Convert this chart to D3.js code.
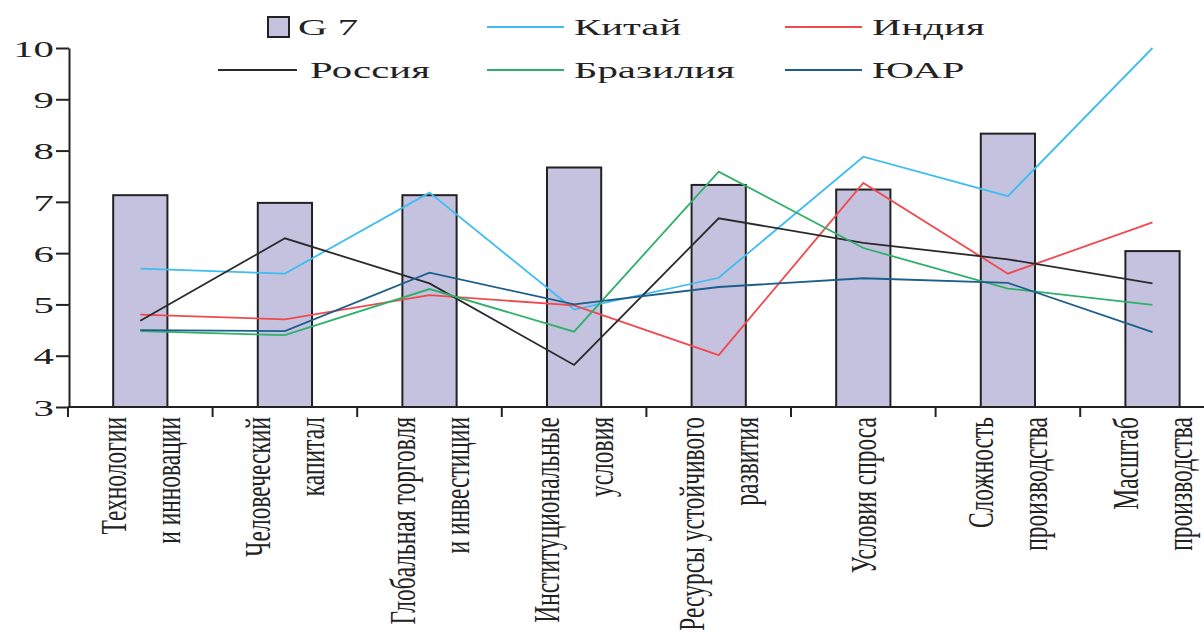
<!DOCTYPE html>
<html>
<head>
<meta charset="utf-8">
<script src="https://cdn.jsdelivr.net/npm/d3@7"></script>
<style>
  body { margin: 0; background: #fff; }
  text { font-family: "Liberation Serif", "DejaVu Serif", serif; fill: #222; }
</style>
</head>
<body>
<div id="chart"></div>
<script>
// categories (label lines)
const categories = [
  ["Технологии", "и инновации"],
  ["Человеческий", "капитал"],
  ["Глобальная торговля", "и инвестиции"],
  ["Институциональные", "условия"],
  ["Ресурсы устойчивого", "развития"],
  ["Условия спроса"],
  ["Сложность", "производства"],
  ["Масштаб", "производства"]
];
const g7 = [7.13, 6.98, 7.13, 7.67, 7.33, 7.24, 8.33, 6.04];
const china = [5.7, 5.6, 7.18, 4.9, 5.52, 7.88, 7.11, 10.0];
const india = [4.8, 4.71, 5.18, 4.98, 4.01, 7.37, 5.6, 6.6];
const russia = [4.68, 6.29, 5.41, 3.82, 6.68, 6.2, 5.88, 5.41];
const brazil = [4.48, 4.4, 5.3, 4.47, 7.59, 6.1, 5.31, 4.99];
const sar = [4.5, 4.48, 5.62, 5.0, 5.34, 5.51, 5.42, 4.46];
const yTicks = [3, 4, 5, 6, 7, 8, 9, 10];

const series = [
  { name: "Китай", values: china, color: "#3fbdf0" },
  { name: "Индия", values: india, color: "#f04a4f" },
  { name: "Россия", values: russia, color: "#2a2a2a" },
  { name: "Бразилия", values: brazil, color: "#2fb06a" },
  { name: "ЮАР", values: sar, color: "#1d5e8c" }
];

const width = 1204, height = 637;
const sx = 1.7; // horizontal stretch of the original picture

const svg = d3.select("#chart").append("svg")
  .attr("width", width)
  .attr("height", height);

const keys = categories.map((c, i) => i);
const x = d3.scaleBand().domain(keys).range([68, 68 + 8 * 144.6]).padding(0);
const y = d3.scaleLinear().domain([3, 10]).range([407, 48]);
const cx = i => x(i) + x.bandwidth() / 2;
const barW = x.bandwidth() * 0.375;

// bars
svg.append("g")
  .selectAll("rect")
  .data(g7)
  .enter()
  .append("rect")
  .attr("x", (d, i) => cx(i) - barW / 2)
  .attr("y", d => y(d))
  .attr("width", barW)
  .attr("height", d => y(3) - y(d))
  .attr("fill", "#c5c2df")
  .attr("stroke", "#222")
  .attr("stroke-width", 2);

// lines
const line = d3.line()
  .x((d, i) => cx(i))
  .y(d => y(d));

svg.append("g")
  .selectAll("path")
  .data(series)
  .enter()
  .append("path")
  .attr("d", d => line(d.values))
  .attr("fill", "none")
  .attr("stroke", d => d.color)
  .attr("stroke-width", 1.8);

// y axis
const yAxis = svg.append("g")
  .attr("transform", "translate(69,0)")
  .call(d3.axisLeft(y).tickValues(yTicks).tickFormat(d3.format("d")).tickSize(13).tickSizeOuter(0));
yAxis.select(".domain").attr("stroke", "#222").attr("stroke-width", 2);
yAxis.selectAll(".tick line").attr("stroke", "#222").attr("stroke-width", 2);
yAxis.selectAll(".tick text")
  .attr("font-family", "Liberation Serif")
  .attr("font-size", 24)
  .attr("fill", "#222")
  .attr("x", -15 / sx)
  .attr("dy", "0.34em")
  .attr("transform", `scale(${sx},1)`);

// x axis
svg.append("line")
  .attr("x1", 68).attr("x2", width)
  .attr("y1", y(3)).attr("y2", y(3))
  .attr("stroke", "#222").attr("stroke-width", 2);

svg.append("g")
  .selectAll("line")
  .data(keys.concat([8]))
  .enter()
  .append("line")
  .attr("x1", d => d < 8 ? x(d) : x(7) + x.step())
  .attr("x2", d => d < 8 ? x(d) : x(7) + x.step())
  .attr("y1", y(3))
  .attr("y2", y(3) + 10)
  .attr("stroke", "#222")
  .attr("stroke-width", 2);

// rotated category labels
const labelG = svg.append("g");
categories.forEach((lines, i) => {
  lines.forEach((t, j) => {
    const off = lines.length === 1 ? 0 : (j === 0 ? -27 : 27);
    labelG.append("text")
      .attr("transform", `translate(${cx(i) + off},417) scale(1.5,1) rotate(-90)`)
      .attr("text-anchor", "end")
      .attr("dominant-baseline", "central")
      .attr("font-size", 23.5)
      .text(t);
  });
});

// legend
const legend = svg.append("g");
legend.append("rect")
  .attr("x", 268).attr("y", 17)
  .attr("width", 21).attr("height", 20)
  .attr("fill", "#c5c2df")
  .attr("stroke", "#222")
  .attr("stroke-width", 2);
legend.append("text")
  .attr("transform", `translate(298,27) scale(${sx},1)`)
  .attr("dominant-baseline", "central")
  .attr("font-size", 24)
  .text("G 7");

const legendPos = [
  { s: 0, x: 487, y: 27 },
  { s: 1, x: 785, y: 27 },
  { s: 2, x: 218, y: 70 },
  { s: 3, x: 487, y: 70 },
  { s: 4, x: 785, y: 70 }
];
legendPos.forEach(p => {
  const s = series[p.s];
  const len = p.s === 2 ? 79 : 77;
  legend.append("line")
    .attr("x1", p.x).attr("x2", p.x + len)
    .attr("y1", p.y).attr("y2", p.y)
    .attr("stroke", s.color)
    .attr("stroke-width", 2);
  legend.append("text")
    .attr("transform", `translate(${p.x + len + (p.s === 2 ? 13 : 10)},${p.y}) scale(${sx},1)`)
    .attr("dominant-baseline", "central")
    .attr("font-size", 24)
    .text(s.name);
});
</script>
</body>
</html>
